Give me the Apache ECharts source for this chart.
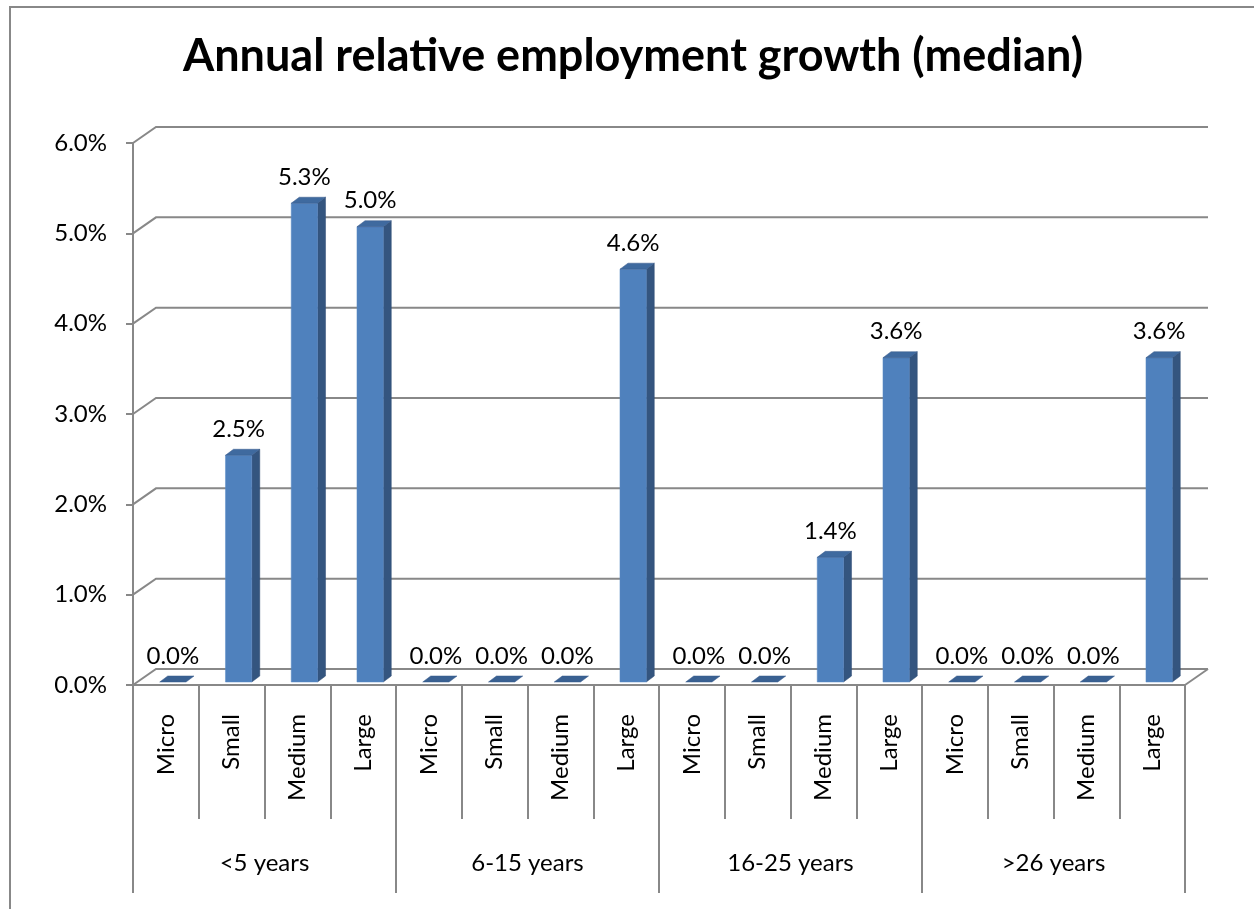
<!DOCTYPE html>
<html>
<head>
<meta charset="utf-8">
<script src="https://cdn.jsdelivr.net/npm/echarts@6/dist/echarts.min.js"></script>
<style>
html,body{margin:0;padding:0;background:#fff;}
#chart{width:1254px;height:909px;}
</style>
</head>
<body>
<div id="chart"></div>
<script>
const titleText = 'Annual relative employment growth (median)';
const groups = ['<5 years', '6-15 years', '16-25 years', '>26 years'];
const sizes = ['Micro', 'Small', 'Medium', 'Large'];
const valuesLt5 = [0, 2.51, 5.30, 5.04];
const values6to15 = [0, 0, 0, 4.57];
const values16to25 = [0, 0, 1.38, 3.59];
const valuesGt26 = [0, 0, 0, 3.59];
const yTicks = [0, 1, 2, 3, 4, 5, 6];

const categories = [];
groups.forEach(() => sizes.forEach(s => categories.push(s)));
const allValues = [].concat(valuesLt5, values6to15, values16to25, valuesGt26);
const barData = allValues.map((v, i) => [i, v]);

const FONT = 'Lato';
const GREY = '#888888';
const DEPTH_X = 23, DEPTH_Y = -16;

const chart = echarts.init(document.getElementById('chart'), null, {renderer: 'canvas'});

const option = {
  backgroundColor: '#ffffff',
  animation: false,
  title: {
    text: titleText,
    left: 633,
    textAlign: 'center',
    top: 34,
    padding: 0,
    textStyle: {fontFamily: FONT, fontWeight: 'bold', fontSize: 45, color: '#000'}
  },
  graphic: [{
    type: 'rect',
    shape: {x: 10, y: 7, width: 1300, height: 1000},
    style: {fill: 'none', stroke: GREY, lineWidth: 2},
    silent: true, z: -10
  }],
  grid: {left: 133, top: 143, right: 69, bottom: 224, containLabel: false},
  xAxis: [{
    type: 'category',
    data: categories,
    position: 'bottom',
    axisLine: {show: true, lineStyle: {color: GREY, width: 2}},
    axisTick: {show: true, length: 134, interval: 0, lineStyle: {color: GREY, width: 2}},
    axisLabel: {interval: 0, rotate: 90, margin: 29, fontFamily: FONT, fontSize: 24, color: '#000'},
    splitLine: {show: false}
  }, {
    type: 'category',
    data: groups,
    position: 'bottom',
    axisLine: {show: false},
    axisTick: {show: true, length: 208, interval: 0, lineStyle: {color: GREY, width: 2}},
    axisLabel: {interval: 0, margin: 166, fontFamily: FONT, fontSize: 24, color: '#000'},
    splitLine: {show: false}
  }],
  yAxis: {
    type: 'value',
    min: 0, max: 6, interval: 1,
    axisLine: {show: true, lineStyle: {color: GREY, width: 2}},
    axisTick: {show: true, length: 7, lineStyle: {color: GREY, width: 2}},
    axisLabel: {margin: 26, fontFamily: FONT, fontSize: 24, color: '#000',
      formatter: v => v.toFixed(1) + '%'},
    splitLine: {show: false}
  },
  series: [{
    type: 'custom',
    name: 'wall',
    xAxisIndex: 0,
    yAxisIndex: 0,
    data: yTicks.map(t => [0, t]),
    clip: false,
    silent: true,
    z: 1,
    renderItem: function (params, api) {
      const cs = params.coordSys;
      const y = api.coord([0, api.value(1)])[1];
      const children = [{
        type: 'polyline',
        shape: {points: [[cs.x, y], [cs.x + DEPTH_X, y + DEPTH_Y], [cs.x + cs.width + DEPTH_X, y + DEPTH_Y]]},
        style: {stroke: GREY, lineWidth: 2, fill: null}
      }];
      if (api.value(1) === 0) {
        children.push({
          type: 'line',
          shape: {x1: cs.x + cs.width, y1: y, x2: cs.x + cs.width + DEPTH_X, y2: y + DEPTH_Y},
          style: {stroke: GREY, lineWidth: 2}
        });
      }
      return {type: 'group', children: children};
    }
  }, {
    type: 'custom',
    name: 'growth',
    xAxisIndex: 0,
    yAxisIndex: 0,
    data: barData,
    clip: false,
    z: 3,
    renderItem: function (params, api) {
      const i = api.value(0), v = api.value(1);
      const base = api.coord([i, 0]);
      const top = api.coord([i, v]);
      const bw = api.size([1, 0])[0] * 0.4;
      const ox = 7, oy = -3, dx = 8, dy = -6;
      const x0 = base[0] - bw / 2 + ox, x1 = x0 + bw;
      const yb = base[1] + oy, yt = top[1] + oy;
      const children = [];
      if (v > 0) {
        children.push({
          type: 'polygon',
          shape: {points: [[x1, yb], [x1 + dx, yb + dy], [x1 + dx, yt + dy], [x1, yt]]},
          style: {fill: '#34557F', stroke: '#2f4d74', lineWidth: 0.5}
        });
        children.push({
          type: 'rect',
          shape: {x: x0, y: yt, width: bw, height: yb - yt},
          style: {fill: '#4F81BD', stroke: '#5a8bc6', lineWidth: 0.5}
        });
      }
      children.push({
        type: 'polygon',
        shape: {points: [[x0, yt], [x1, yt], [x1 + dx, yt + dy], [x0 + dx, yt + dy]]},
        style: {fill: v > 0 ? '#3F6A9F' : '#3A6192', stroke: '#36598a', lineWidth: 0.5}
      });
      children.push({
        type: 'text',
        style: {
          x: (x0 + x1) / 2, y: yt - 26,
          text: v.toFixed(1) + '%',
          textAlign: 'center', textVerticalAlign: 'middle',
          fontFamily: FONT, fontSize: 24, fill: '#000'
        }
      });
      return {type: 'group', children: children};
    }
  }]
};
chart.setOption(option);
</script>
</body>
</html>
